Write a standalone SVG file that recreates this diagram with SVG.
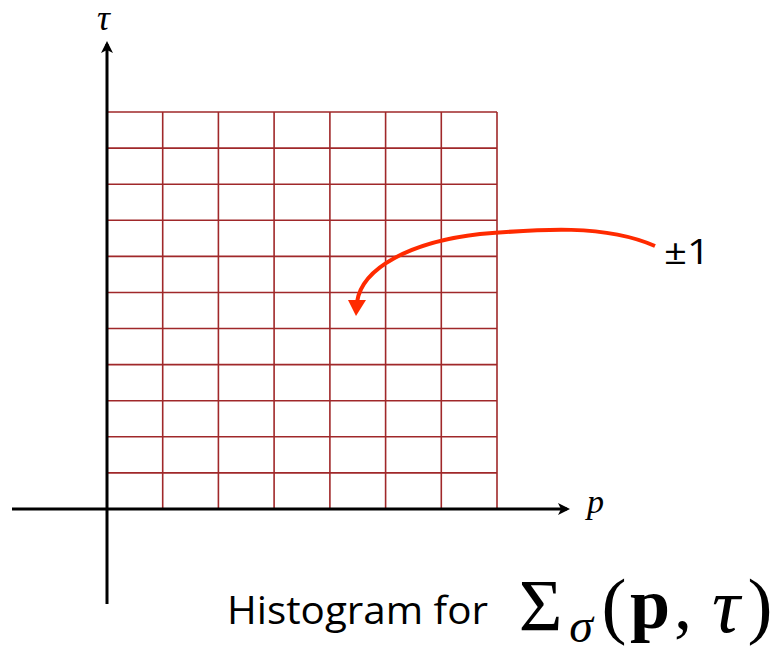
<svg xmlns="http://www.w3.org/2000/svg" width="774" height="648" viewBox="0 0 774 648">
<defs>
<style>
.grid{stroke:#a0282a;stroke-width:1.6;fill:none}
.axis{stroke:#000;stroke-width:3;fill:none}
.serif{font-family:"Liberation Serif","DejaVu Serif",serif}
.sans{font-family:"Open Sans","Liberation Sans",sans-serif}
.m{font-family:"Liberation Serif","DejaVu Serif",serif;text-anchor:middle}
</style>
<marker id="ah" markerWidth="12" markerHeight="12" refX="9" refY="6" orient="auto" markerUnits="userSpaceOnUse">
<path d="M0,0 L12,6 L0,12 L3,6 Z" fill="#000"/>
</marker>
</defs>
<rect width="774" height="648" fill="#fff"/>
<g id="grid" class="grid">
<path d="M162.7,112V509M218.4,112V509M274.1,112V509M329.9,112V509M385.6,112V509M441.3,112V509M497,112V509"/>
<path d="M107,112H497M107,148.1H497M107,184.2H497M107,220.3H497M107,256.4H497M107,292.5H497M107,328.5H497M107,364.6H497M107,400.7H497M107,436.8H497M107,472.9H497"/>
</g>
<g id="axes">
<line class="axis" x1="107" y1="604" x2="107" y2="44" marker-end="url(#ah)"/>
<line class="axis" x1="12" y1="509" x2="567" y2="509" marker-end="url(#ah)"/>
</g>
<g id="labels">
<text class="serif" x="97" y="30" font-size="36" font-style="italic">τ</text>
<text class="serif" x="587" y="513" font-size="34" font-style="italic">p</text>
</g>
<g id="connectors">
<path d="M655,246 C605,224 540,229 480,234 C410,242 362,268 357,302" fill="none" stroke="#ff2a00" stroke-width="4"/>
<polygon points="356,316 348,300 366,300" fill="#ff2a00"/>
</g>
<g id="pm1">
<text class="sans" x="664" y="264" font-size="34" textLength="46" lengthAdjust="spacingAndGlyphs">±1</text>
</g>
<g id="caption">
<text class="sans" x="227" y="624" font-size="38" textLength="261" lengthAdjust="spacingAndGlyphs">Histogram for</text>
<text class="m" x="540.5" y="631" font-size="75">Σ</text>
<text class="m" x="581" y="642" font-size="48" font-style="italic">σ</text>
<text class="m" x="614" y="630" font-size="75">(</text>
<text class="m" x="650" y="628" font-size="72" font-weight="bold">p</text>
<text class="m" x="683" y="628" font-size="72">,</text>
<text class="m" x="726" y="632" font-size="78" font-style="italic">τ</text>
<text class="m" x="760" y="630" font-size="75">)</text>
</g>
</svg>
